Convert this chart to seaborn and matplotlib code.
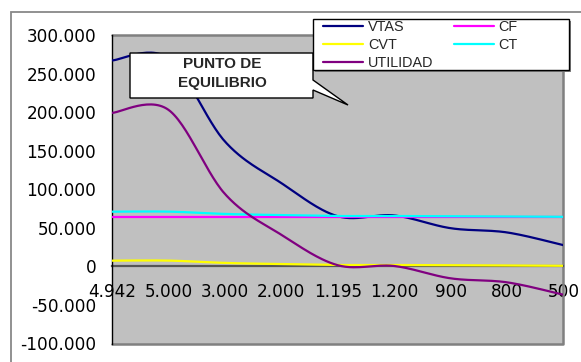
import numpy as np
import matplotlib
matplotlib.use("Agg")
import matplotlib.pyplot as plt
import seaborn as sns
from matplotlib.patches import Polygon, Rectangle
from matplotlib.lines import Line2D
from matplotlib.ticker import FuncFormatter

# ---- data ----
categories = ["4.942", "5.000", "3.000", "2.000", "1.195", "1.200", "900", "800", "500"]
vtas = [267000, 270000, 162000, 108000, 65000, 66000, 49500, 44000, 27500]
cf = [63500, 63500, 63500, 63500, 63500, 63500, 63500, 63500, 63500]
cvt = [7400, 7500, 4500, 3000, 1800, 1800, 1350, 1200, 750]
ct = [70900, 71000, 68000, 66500, 65300, 65300, 64850, 64700, 64250]
utilidad = [199000, 203000, 94000, 41000, 1500, 500, -15500, -20700, -36800]
yticks = [-100000, -50000, 0, 50000, 100000, 150000, 200000, 250000, 300000]

series = [("VTAS", vtas, "#000080"), ("CF", cf, "#FF00FF"), ("CVT", cvt, "#FFFF00"),
          ("CT", ct, "#00FFFF"), ("UTILIDAD", utilidad, "#800080")]

sns.set_theme(style="white")
plt.rcParams["font.family"] = ["DejaVu Sans"]

W, H = 581, 362
fig = plt.figure(figsize=(W / 100, H / 100), dpi=100)
fig.patch.set_facecolor("white")

def fx(px):
    return px / W

def fy(py):
    return 1 - py / H

ax = fig.add_axes([fx(112), fy(343.5), fx(563.5) - fx(112), fy(35) - fy(343.5)])
ax.set_facecolor("#C0C0C0")


def smooth(xs, ys, n=30):
    # Excel-like smoothed line (Catmull-Rom Bezier segments)
    P = np.column_stack([xs, ys]).astype(float)
    P = np.vstack([P[0], P, P[-1]])
    out = []
    for i in range(1, len(P) - 2):
        p0, p1, p2, p3 = P[i - 1], P[i], P[i + 1], P[i + 2]
        c1 = p1 + (p2 - p0) / 6
        c2 = p2 - (p3 - p1) / 6
        t = np.linspace(0, 1, n)[:, None]
        seg = (1 - t) ** 3 * p1 + 3 * (1 - t) ** 2 * t * c1 + 3 * (1 - t) * t ** 2 * c2 + t ** 3 * p2
        out.append(seg if i == 1 else seg[1:])
    out = np.vstack(out)
    return out[:, 0], out[:, 1]

x = np.arange(len(categories))
handles = {}
for k, (name, vals, col) in enumerate(series):
    sx, sy = smooth(x, vals)
    sns.lineplot(x=sx, y=sy, ax=ax, color=col, lw=1.6, sort=False, estimator=None, zorder=3 + k)
    handles[name] = Line2D([], [], color=col, lw=1.6)

ax.set_xlim(0, len(categories) - 1)
ax.set_ylim(-100000, 300000)
ax.set_xticks(x)
ax.set_xticklabels(categories)
ax.set_yticks(yticks)
ax.yaxis.set_major_formatter(FuncFormatter(lambda v, p: f"{int(v):,}".replace(",", ".")))

for s in ["top", "right"]:
    ax.spines[s].set_visible(False)
ax.spines["left"].set_color("black")
ax.spines["left"].set_linewidth(1.0)
ax.spines["bottom"].set_position(("data", 0))
ax.spines["bottom"].set_color("#555555")
ax.spines["bottom"].set_linewidth(1.6)
ax.spines["bottom"].set_zorder(2)

ax.tick_params(axis="both", direction="inout", length=8.5, width=1.0, color="black",
               labelsize=12.2, pad=7, labelcolor="black")
ax.tick_params(axis="x", pad=8)

# plot area border (top, right, bottom)
ax.plot([0, 1, 1, 0], [1, 1, 0, 0], transform=ax.transAxes, color="#808080", lw=1.8,
        clip_on=False, zorder=1)

# outer chart frame
fig.patches.append(Rectangle((fx(11), fy(400)), fx(700), fy(11.5) - fy(400),
                             transform=fig.transFigure, fill=False, edgecolor="#888888",
                             lw=1.3, zorder=1))

# callout "PUNTO DE EQUILIBRIO"
pts = [(130, 53), (313, 53), (313, 80), (348, 105), (313, 90), (313, 98), (130, 98)]
fig.patches.append(Polygon([(fx(a), fy(b)) for a, b in pts], closed=True,
                           transform=fig.transFigure, facecolor="white", edgecolor="black",
                           lw=1.0, zorder=4))
fig.text(fx(222), fy(64.5), "PUNTO DE", ha="center", va="center", fontsize=11,
         fontweight="bold", family=["Liberation Sans", "DejaVu Sans"], zorder=6)
fig.text(fx(222), fy(82.5), "EQUILIBRIO", ha="center", va="center", fontsize=11,
         fontweight="bold", family=["Liberation Sans", "DejaVu Sans"], zorder=6)

# legend box
fig.patches.append(Rectangle((fx(315), fy(72)), fx(256), fy(19) - fy(70),
                             transform=fig.transFigure, facecolor="#808080", edgecolor="none",
                             zorder=4))
fig.patches.append(Rectangle((fx(313), fy(70)), fx(256), fy(19) - fy(70),
                             transform=fig.transFigure, facecolor="white", edgecolor="black",
                             lw=1.0, zorder=4))
order = ["VTAS", "CVT", "UTILIDAD", "CF", "CT"]
leg = fig.legend([handles[n] for n in order], order, ncol=2, loc="upper left",
                 bbox_to_anchor=(fx(323), fy(20)), frameon=False, borderpad=0,
                 borderaxespad=0, handlelength=2.75, handletextpad=0.35,
                 columnspacing=1.43, labelspacing=0.27,
                 prop={"family": ["Liberation Sans", "DejaVu Sans"], "size": 10.4})
leg.set_zorder(7)

fig.savefig("out.png", dpi=100)
